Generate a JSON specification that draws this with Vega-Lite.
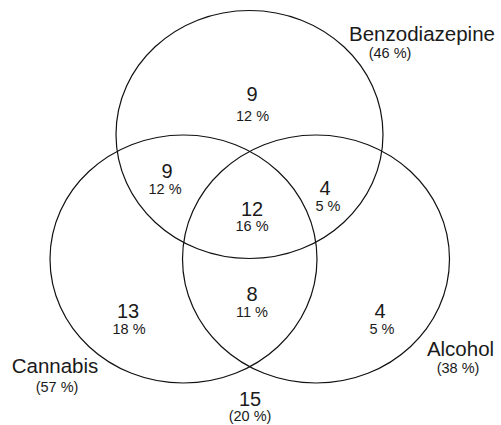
{
  "$schema": "https://vega.github.io/schema/vega-lite/v6.json",
  "width": 501,
  "height": 425,
  "autosize": {"type": "fit", "contains": "padding"},
  "padding": 0,
  "background": "white",
  "config": {"view": {"stroke": null}},
  "datasets": {
    "sets": [
      {"set": "Benzodiazepine", "cx": 249.5, "cy": 134.5},
      {"set": "Cannabis", "cx": 183.5, "cy": 259},
      {"set": "Alcohol", "cx": 316, "cy": 259}
    ],
    "labels": [
      {"x": 422, "y": 40.5, "label": "Benzodiazepine", "kind": "name"},
      {"x": 390, "y": 57.5, "label": "(46 %)", "kind": "pct"},
      {"x": 252, "y": 101, "label": "9", "kind": "count"},
      {"x": 252.5, "y": 120.5, "label": "12 %", "kind": "pct"},
      {"x": 167, "y": 177.5, "label": "9", "kind": "count"},
      {"x": 165, "y": 193.5, "label": "12 %", "kind": "pct"},
      {"x": 325, "y": 194.5, "label": "4", "kind": "count"},
      {"x": 328, "y": 210.5, "label": "5 %", "kind": "pct"},
      {"x": 252, "y": 215.5, "label": "12", "kind": "count"},
      {"x": 252, "y": 231, "label": "16 %", "kind": "pct"},
      {"x": 252, "y": 301, "label": "8", "kind": "count"},
      {"x": 252, "y": 317, "label": "11 %", "kind": "pct"},
      {"x": 128, "y": 317.5, "label": "13", "kind": "count"},
      {"x": 129, "y": 333.5, "label": "18 %", "kind": "pct"},
      {"x": 380, "y": 317.5, "label": "4", "kind": "count"},
      {"x": 382, "y": 333.5, "label": "5 %", "kind": "pct"},
      {"x": 460.5, "y": 356, "label": "Alcohol", "kind": "name"},
      {"x": 458, "y": 372.5, "label": "(38 %)", "kind": "pct"},
      {"x": 55, "y": 373, "label": "Cannabis", "kind": "name"},
      {"x": 57, "y": 391.5, "label": "(57 %)", "kind": "pct"},
      {"x": 250, "y": 406, "label": "15", "kind": "count"},
      {"x": 250, "y": 421, "label": "(20 %)", "kind": "pct"}
    ]
  },
  "layer": [
    {
      "data": {"name": "sets"},
      "mark": {
        "type": "point",
        "shape": "M-1,0A1,0.929,0,1,1,1,0A1,0.929,0,1,1,-1,0Z",
        "size": 71289,
        "filled": false,
        "stroke": "#111111",
        "strokeWidth": 1.2,
        "opacity": 1
      },
      "encoding": {
        "x": {"field": "cx", "type": "quantitative", "scale": {"domain": [0, 501], "nice": false, "zero": false}, "axis": null},
        "y": {"field": "cy", "type": "quantitative", "scale": {"domain": [0, 425], "nice": false, "zero": false, "reverse": true}, "axis": null}
      }
    },
    {
      "data": {"name": "labels"},
      "transform": [{"filter": "datum.kind === 'name'"}],
      "mark": {"type": "text", "font": "Liberation Sans", "fontSize": 20.5, "align": "center", "baseline": "alphabetic", "color": "#1a1a1a"},
      "encoding": {
        "x": {"field": "x", "type": "quantitative", "scale": {"domain": [0, 501], "nice": false, "zero": false}, "axis": null},
        "y": {"field": "y", "type": "quantitative", "scale": {"domain": [0, 425], "nice": false, "zero": false, "reverse": true}, "axis": null},
        "text": {"field": "label", "type": "nominal"}
      }
    },
    {
      "data": {"name": "labels"},
      "transform": [{"filter": "datum.kind === 'count'"}],
      "mark": {"type": "text", "font": "Liberation Sans", "fontSize": 20, "align": "center", "baseline": "alphabetic", "color": "#1a1a1a"},
      "encoding": {
        "x": {"field": "x", "type": "quantitative", "scale": {"domain": [0, 501], "nice": false, "zero": false}, "axis": null},
        "y": {"field": "y", "type": "quantitative", "scale": {"domain": [0, 425], "nice": false, "zero": false, "reverse": true}, "axis": null},
        "text": {"field": "label", "type": "nominal"}
      }
    },
    {
      "data": {"name": "labels"},
      "transform": [{"filter": "datum.kind === 'pct'"}],
      "mark": {"type": "text", "font": "Liberation Sans", "fontSize": 14.5, "align": "center", "baseline": "alphabetic", "color": "#1a1a1a"},
      "encoding": {
        "x": {"field": "x", "type": "quantitative", "scale": {"domain": [0, 501], "nice": false, "zero": false}, "axis": null},
        "y": {"field": "y", "type": "quantitative", "scale": {"domain": [0, 425], "nice": false, "zero": false, "reverse": true}, "axis": null},
        "text": {"field": "label", "type": "nominal"}
      }
    }
  ]
}
